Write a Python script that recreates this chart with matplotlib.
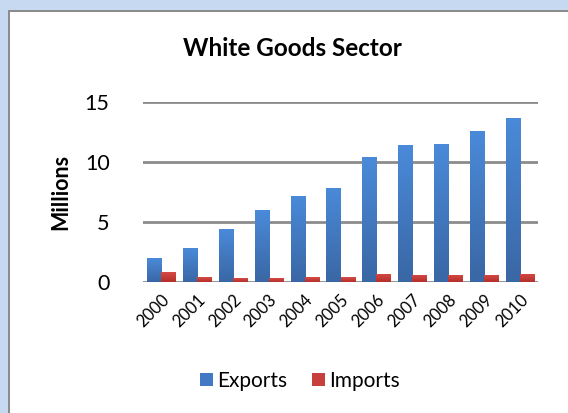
import matplotlib
matplotlib.use("Agg")
import matplotlib.pyplot as plt
import numpy as np
from matplotlib.patches import Rectangle
from matplotlib.colors import LinearSegmentedColormap

years = ["2000", "2001", "2002", "2003", "2004", "2005", "2006", "2007", "2008", "2009", "2010"]
exports = [2.0, 2.8, 4.4, 6.0, 7.2, 7.8, 10.4, 11.4, 11.5, 12.6, 13.7]
imports = [0.8, 0.4, 0.3, 0.3, 0.4, 0.4, 0.7, 0.6, 0.6, 0.6, 0.7]
yticks = [0, 5, 10, 15]

plt.rcParams['font.family'] = ['Lato', 'DejaVu Sans']

W, H = 568, 413
fig = plt.figure(figsize=(W / 100, H / 100), dpi=100)
fig.patch.set_facecolor('#c6d9f1')
# gray border + white panel
fig.patches.append(Rectangle((8 / W, 0), 1, 1 - 10 / H, transform=fig.transFigure,
                             facecolor='#8c8c8c', edgecolor='none', zorder=-2))
fig.patches.append(Rectangle((10 / W, 0), 1, 1 - 12 / H, transform=fig.transFigure,
                             facecolor='white', edgecolor='none', zorder=-1))

ax = fig.add_axes([143 / W, 1 - 282 / H, (538 - 143) / W, (282 - 102) / H])
ax.set_facecolor('none')

x = np.arange(len(years))
w = 0.39
blue_cmap = LinearSegmentedColormap.from_list('b', ['#3a67a5', '#4a8ad9'])
red_cmap = LinearSegmentedColormap.from_list('r', ['#b52f2b', '#d64b46'])
grad = np.linspace(0, 1, 64).reshape(-1, 1)

def gradient_bars(xs, vals, cmap, color, label):
    bars = ax.bar(xs, vals, width=w, color=color, zorder=3, label=label)
    for b in bars:
        bx, by = b.get_x(), b.get_y()
        bw, bh = b.get_width(), b.get_height()
        im = ax.imshow(grad, extent=[bx, bx + bw, by, by + bh], origin='lower',
                       cmap=cmap, aspect='auto', zorder=3.5, interpolation='bilinear')
        im.set_clip_path(b)
    return bars

gradient_bars(x - w / 2, exports, blue_cmap, '#4179c4', 'Exports')
gradient_bars(x + w / 2, imports, red_cmap, '#c8403c', 'Imports')

ax.set_xlim(-0.5, len(years) - 0.5)
ax.set_ylim(0, 15)
ax.set_yticks(yticks)
ax.set_yticklabels([str(t) for t in yticks], fontsize=15.5)
ax.yaxis.grid(True, color='#8c8c8c', linewidth=2, zorder=1)
ax.set_axisbelow(True)
for s in ax.spines.values():
    s.set_visible(False)
ax.tick_params(axis='both', length=0)
ax.tick_params(axis='y', pad=24)
ax.set_xticks(x)
ax.set_xticklabels(years, rotation=45, ha='right', rotation_mode='anchor', fontsize=12)
ax.tick_params(axis='x', pad=7)

ax.set_ylabel('Millions', fontsize=15.5, fontweight='bold', labelpad=10)

fig.text(292 / W, 1 - 48 / H, 'White Goods Sector', ha='center', va='center',
         fontsize=17.5, fontweight='bold')

fig.legend(loc='center', bbox_to_anchor=(300 / W, 1 - 381 / H), ncol=2, frameon=False,
           fontsize=15, handlelength=0.6, handleheight=0.6, handletextpad=0.2,
           columnspacing=1.2)

fig.savefig('out.png', dpi=100, facecolor=fig.get_facecolor())
